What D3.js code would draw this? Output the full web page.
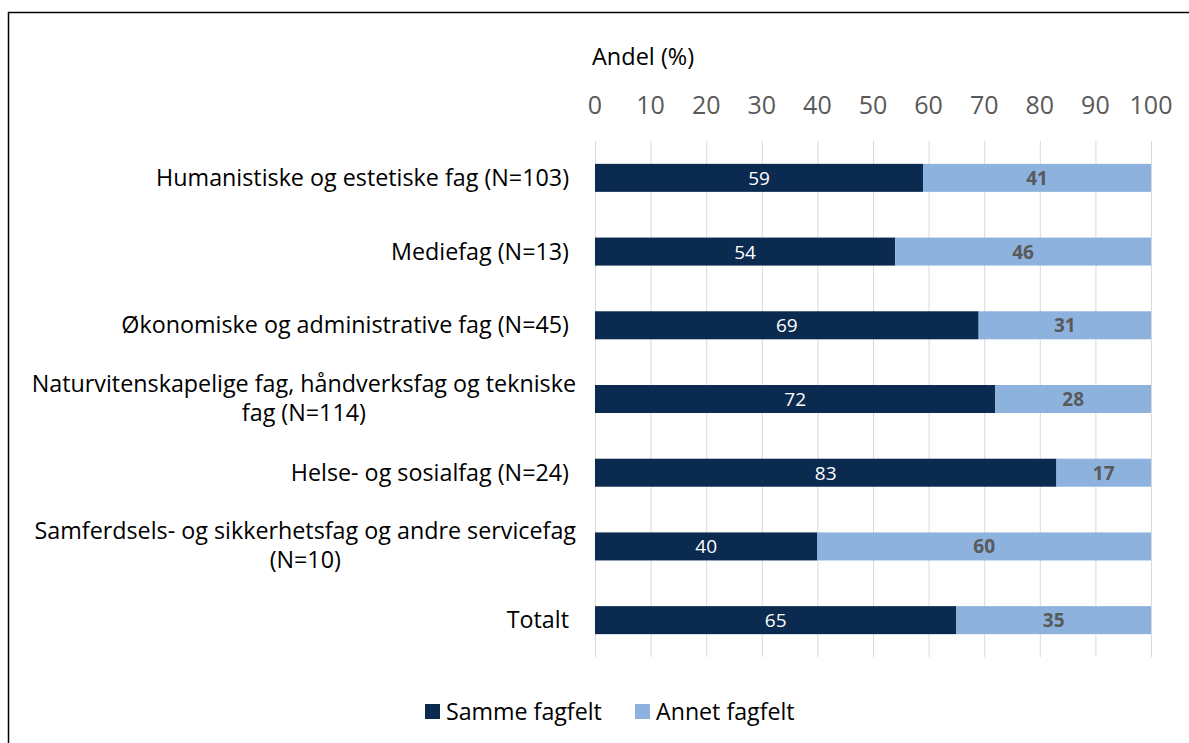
<!doctype html>
<html>
<head>
<meta charset="utf-8">
<script src="https://d3js.org/d3.v7.min.js"></script>
<style>
  body { margin: 0; background: #fff; }
  text { font-family: "Open Sans", "Liberation Sans", sans-serif; }
</style>
</head>
<body>
<svg id="chart" width="1189" height="743"></svg>
<script>
var categories = [
  ["Humanistiske og estetiske fag (N=103)"],
  ["Mediefag (N=13)"],
  ["Økonomiske og administrative fag (N=45)"],
  ["Naturvitenskapelige fag, håndverksfag og tekniske", "fag (N=114)"],
  ["Helse- og sosialfag (N=24)"],
  ["Samferdsels- og sikkerhetsfag og andre servicefag", "(N=10)"],
  ["Totalt"]
];
var samme = [59, 54, 69, 72, 83, 40, 65];
var annet = [41, 46, 31, 28, 17, 60, 35];
var seriesNames = ["Samme fagfelt", "Annet fagfelt"];
var ticks = [0, 10, 20, 30, 40, 50, 60, 70, 80, 90, 100];

var colors = ["#0b2a50", "#8db2de"];
var svg = d3.select("#chart");

// frame
svg.append("path")
  .attr("d", "M8.5,743 L8.5,12.5 L1189,12.5")
  .attr("fill", "none")
  .attr("stroke", "#000")
  .attr("stroke-width", 1.5);

var x = d3.scaleLinear().domain([0, 100]).range([595, 1151]);
var y = d3.scaleBand().domain(d3.range(categories.length)).range([141, 657])
  .paddingInner(0.62).paddingOuter(0.31);

// grid
svg.append("g").selectAll("line").data(ticks).enter().append("line")
  .attr("x1", d => x(d) + 0.5).attr("x2", d => x(d) + 0.5)
  .attr("y1", 141).attr("y2", 657)
  .attr("stroke", "#d9d9d9").attr("stroke-width", 1);

// tick labels
svg.append("g").selectAll("text").data(ticks).enter().append("text")
  .attr("x", d => x(d)).attr("y", 114)
  .attr("text-anchor", "middle")
  .attr("font-size", 25).attr("fill", "#595959")
  .text(d => d);

svg.append("text")
  .attr("x", 592).attr("y", 65)
  .attr("font-size", 23.5).attr("fill", "#000")
  .text("Andel (%)");

// bars
var rows = svg.append("g").selectAll("g").data(categories).enter().append("g");
rows.append("rect")
  .attr("x", x(0)).attr("y", (d, i) => y(i))
  .attr("width", (d, i) => x(samme[i]) - x(0))
  .attr("height", y.bandwidth())
  .attr("fill", colors[0]);
rows.append("rect")
  .attr("x", (d, i) => x(samme[i])).attr("y", (d, i) => y(i))
  .attr("width", (d, i) => x(samme[i] + annet[i]) - x(samme[i]))
  .attr("height", y.bandwidth())
  .attr("fill", colors[1]);
rows.append("text")
  .attr("x", (d, i) => x(samme[i] / 2)).attr("y", (d, i) => y(i) + y.bandwidth() / 2 + 7)
  .attr("text-anchor", "middle").attr("font-size", 19).attr("fill", "#fff")
  .text((d, i) => samme[i]);
rows.append("text")
  .attr("x", (d, i) => x(samme[i] + annet[i] / 2)).attr("y", (d, i) => y(i) + y.bandwidth() / 2 + 7)
  .attr("text-anchor", "middle").attr("font-size", 19).attr("font-weight", "bold").attr("fill", "#595959")
  .text((d, i) => annet[i]);

// category labels
rows.each(function(lines, i) {
  var g = d3.select(this);
  var cy = y(i) + y.bandwidth() / 2;
  if (lines.length === 1) {
    g.append("text").attr("x", 569).attr("y", cy + 8)
      .attr("text-anchor", "end").attr("font-size", 23.3).attr("fill", "#000")
      .text(lines[0]);
  } else {
    var t = g.append("text").attr("y", cy - 7)
      .attr("text-anchor", "middle").attr("font-size", 23.3).attr("fill", "#000");
    var w = 0;
    lines.forEach(function(l, j) {
      t.append("tspan").attr("dy", j === 0 ? 0 : 29).text(l);
    });
    t.selectAll("tspan").each(function() { w = Math.max(w, this.getComputedTextLength()); });
    t.selectAll("tspan").attr("x", 576 - w / 2);
  }
});

// legend
var lx = [425, 635];
var leg = svg.append("g").selectAll("g").data(seriesNames).enter().append("g");
leg.append("rect")
  .attr("x", (d, i) => lx[i]).attr("y", 704).attr("width", 15).attr("height", 15)
  .attr("fill", (d, i) => colors[i]);
leg.append("text")
  .attr("x", (d, i) => lx[i] + 21).attr("y", 720)
  .attr("font-size", 23.2).attr("fill", "#000")
  .text(d => d);
</script>
</body>
</html>
